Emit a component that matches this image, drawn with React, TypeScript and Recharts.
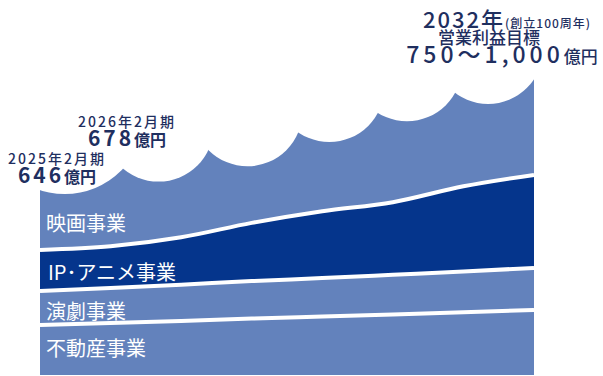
import React from "react";
import { AreaChart, Area, Line, XAxis, YAxis, ReferenceDot } from "recharts";

// 期ごとの積み上げ（見た目から読み取った目安の値）
const years = [2025, 2026, 2027, 2028, 2029, 2030, 2031, 2032];
const realEstate = [167, 173, 180, 188, 195, 202, 209, 217];
const theater = [113, 117, 121, 125, 128, 132, 136, 140];
const ipAnime = [137, 139, 158, 194, 223, 242, 284, 310];
const film = [366, 381, 384, 376, 404, 441, 438, 416];

// 雲の形（白い円で上端を切り欠く）
const cloudX = [2025.35, 2026.68, 2027.94, 2029.1, 2030.2, 2031.35];
const cloudY = [870, 828, 879, 960, 1029, 1087];
const cloudR = [80, 55, 55, 55, 55, 55];

const segmentLabels = ["映画事業", "IP･アニメ事業", "演劇事業", "不動産事業"];

const data = years.map((year, i) => ({
  year,
  realEstate: realEstate[i],
  theater: theater[i],
  ipAnime: ipAnime[i],
  film: film[i],
}));

const MID = "#6382bc";
const NAVY = "#05358c";
const INK = "#1f2f5f";
const FONT = '"Noto Sans CJK JP", "Noto Sans", sans-serif';

export default function App() {
  return (
    <div style={{ position: "absolute", left: 0, top: 0, width: 603, height: 376, background: "#fff" }}>
      <AreaChart
        width={603}
        height={376}
        data={data}
        margin={{ top: 0, right: 69, bottom: 1, left: 40 }}
      >
        <XAxis dataKey="year" type="number" domain={[2025, 2032]} hide />
        <YAxis domain={[0, 1250]} hide />
        <Area type="monotone" dataKey="realEstate" stackId="a" fill={MID} fillOpacity={1} stroke="none" isAnimationActive={false} />
        <Area type="monotone" dataKey="theater" stackId="a" fill={MID} fillOpacity={1} stroke="none" isAnimationActive={false} />
        <Area type="monotone" dataKey="ipAnime" stackId="a" fill={NAVY} fillOpacity={1} stroke="none" isAnimationActive={false} />
        <Area type="monotone" dataKey="film" stackId="a" fill={MID} fillOpacity={1} stroke="none" isAnimationActive={false} />
        {/* white separators */}
        <Line type="monotone" dataKey={(d: any) => d.realEstate} stroke="#fff" strokeWidth={4} dot={false} activeDot={false} isAnimationActive={false} />
        <Line type="monotone" dataKey={(d: any) => d.realEstate + d.theater} stroke="#fff" strokeWidth={4} dot={false} activeDot={false} isAnimationActive={false} />
        <Line type="monotone" dataKey={(d: any) => d.realEstate + d.theater + d.ipAnime} stroke="#fff" strokeWidth={4} dot={false} activeDot={false} isAnimationActive={false} />
        {cloudX.map((x, i) => (
          <ReferenceDot key={i} x={x} y={cloudY[i]} r={cloudR[i]} fill="#fff" stroke="none" />
        ))}
      </AreaChart>

      <svg width={603} height={376} style={{ position: "absolute", left: 0, top: 0, pointerEvents: "none" }} fontFamily={FONT}>
        <g fill="#fff" fontSize={20} fontWeight={400}>
          <text x={46} y={231}>{segmentLabels[0]}</text>
          <text x={48} y={280}>{segmentLabels[1]}</text>
          <text x={46} y={318.5}>{segmentLabels[2]}</text>
          <text x={46} y={355.5}>{segmentLabels[3]}</text>
        </g>
        <g fill={INK} textAnchor="middle">
          <text x={57} y={164} fontSize={14} fontWeight={500} letterSpacing={2}>2025年2月期</text>
          <text x={57} y={183} fontWeight={700}>
            <tspan fontSize={21} letterSpacing={3}>646</tspan>
            <tspan fontSize={16}>億円</tspan>
          </text>
          <text x={127} y={126.5} fontSize={14} fontWeight={500} letterSpacing={2}>2026年2月期</text>
          <text x={127} y={146} fontWeight={700}>
            <tspan fontSize={21} letterSpacing={3}>678</tspan>
            <tspan fontSize={16}>億円</tspan>
          </text>
          <text x={507} y={28} fontWeight={500}>
            <tspan fontSize={22} letterSpacing={2}>2032年</tspan>
            <tspan fontSize={12} letterSpacing={1}>(創立100周年)</tspan>
          </text>
          <text x={489} y={44} fontSize={17} fontWeight={500}>営業利益目標</text>
          <text x={502} y={63} fontWeight={500}>
            <tspan fontSize={23} letterSpacing={4}>750～1,000</tspan>
            <tspan fontSize={17}>億円</tspan>
          </text>
        </g>
      </svg>
    </div>
  );
}
